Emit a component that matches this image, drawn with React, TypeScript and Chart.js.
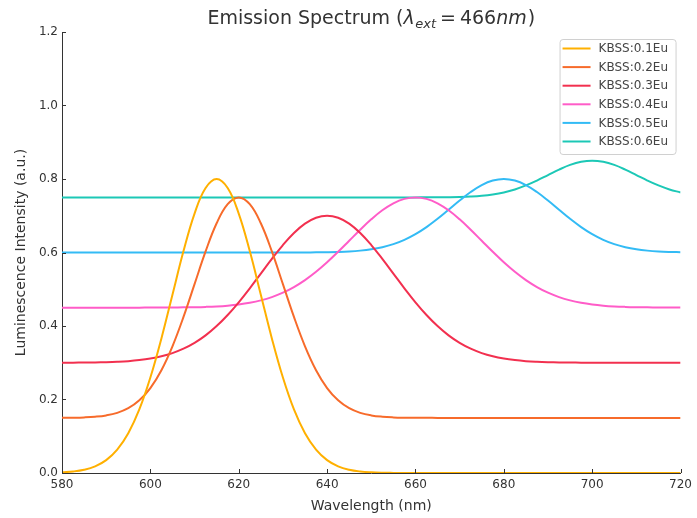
import React, { useEffect, useRef } from "react";
import { Chart, registerables } from "chart.js";

Chart.register(...registerables);

// Wavelength samples (nm), every 2.5 nm
const wavelengths = [
  580, 582.5, 585, 587.5, 590, 592.5, 595, 597.5, 600, 602.5, 605, 607.5, 610,
  612.5, 615, 617.5, 620, 622.5, 625, 627.5, 630, 632.5, 635, 637.5, 640, 642.5,
  645, 647.5, 650, 652.5, 655, 657.5, 660, 662.5, 665, 667.5, 670, 672.5, 675,
  677.5, 680, 682.5, 685, 687.5, 690, 692.5, 695, 697.5, 700, 702.5, 705, 707.5,
  710, 712.5, 715, 717.5, 720,
];

// Intensities (a.u.)
const kbss01 = [
  0.0018, 0.0041, 0.0089, 0.0182, 0.0351, 0.0637, 0.1083, 0.173, 0.2598,
  0.3662, 0.4852, 0.6038, 0.706, 0.7754, 0.8, 0.7754, 0.706, 0.6038, 0.4852,
  0.3662, 0.2598, 0.173, 0.1083, 0.0637, 0.0351, 0.0182, 0.0089, 0.0041,
  0.0018, 0.0007, 0.0003, 0.0001,
  0, 0, 0, 0, 0, 0, 0, 0, 0, 0, 0, 0, 0, 0, 0, 0, 0, 0, 0, 0, 0, 0, 0, 0, 0,
];
const kbss02 = [
  0.1502, 0.1505, 0.1513, 0.1531, 0.1567, 0.1637, 0.1763, 0.1978, 0.2312,
  0.2798, 0.3448, 0.4247, 0.5139, 0.6029, 0.6795, 0.7315, 0.75, 0.7315,
  0.6795, 0.6029, 0.5139, 0.4247, 0.3448, 0.2798, 0.2312, 0.1978, 0.1763,
  0.1637, 0.1567, 0.1531, 0.1513, 0.1505, 0.1502, 0.1501,
  0.15, 0.15, 0.15, 0.15, 0.15, 0.15, 0.15, 0.15, 0.15, 0.15, 0.15, 0.15, 0.15,
  0.15, 0.15, 0.15, 0.15, 0.15, 0.15, 0.15, 0.15, 0.15, 0.15,
];
const kbss03 = [
  0.3001, 0.3003, 0.3005, 0.3009, 0.3016, 0.3027, 0.3044, 0.3072, 0.3114,
  0.3176, 0.3263, 0.3382, 0.3541, 0.3745, 0.3998, 0.4299, 0.4644, 0.5025,
  0.5426, 0.5826, 0.6203, 0.653, 0.6784, 0.6945, 0.7, 0.6945, 0.6784, 0.653,
  0.6203, 0.5826, 0.5426, 0.5025, 0.4644, 0.4299, 0.3998, 0.3745, 0.3541,
  0.3382, 0.3263, 0.3176, 0.3114, 0.3072, 0.3044, 0.3027, 0.3016, 0.3009,
  0.3005, 0.3003, 0.3001, 0.3001,
  0.3, 0.3, 0.3, 0.3, 0.3, 0.3, 0.3,
];
const kbss04 = [
  0.45, 0.45, 0.45, 0.45, 0.45, 0.45, 0.45, 0.45,
  0.4501, 0.4502, 0.4504, 0.4507, 0.4512, 0.452, 0.4533, 0.4554, 0.4586,
  0.4632, 0.4697, 0.4787, 0.4906, 0.5059, 0.5248, 0.5474, 0.5733, 0.6019,
  0.632, 0.662, 0.6902, 0.7148, 0.7338, 0.7459, 0.75, 0.7459, 0.7338, 0.7148,
  0.6902, 0.662, 0.632, 0.6019, 0.5733, 0.5474, 0.5248, 0.5059, 0.4906,
  0.4787, 0.4697, 0.4632, 0.4586, 0.4554, 0.4533, 0.452, 0.4512, 0.4507,
  0.4504, 0.4502, 0.4501,
];
const kbss05 = [
  0.6, 0.6, 0.6, 0.6, 0.6, 0.6, 0.6, 0.6, 0.6, 0.6, 0.6, 0.6, 0.6, 0.6, 0.6,
  0.6, 0.6, 0.6, 0.6, 0.6, 0.6,
  0.6001, 0.6002, 0.6004, 0.6008, 0.6015, 0.6028, 0.6051, 0.6088, 0.6145,
  0.6228, 0.6345, 0.6499, 0.6691, 0.6916, 0.7163, 0.7413, 0.7645, 0.7834,
  0.7957, 0.8, 0.7957, 0.7834, 0.7645, 0.7413, 0.7163, 0.6916, 0.6691, 0.6499,
  0.6345, 0.6228, 0.6145, 0.6088, 0.6051, 0.6028, 0.6015, 0.6008,
];
const kbss06 = [
  0.75, 0.75, 0.75, 0.75, 0.75, 0.75, 0.75, 0.75, 0.75, 0.75, 0.75, 0.75, 0.75,
  0.75, 0.75, 0.75, 0.75, 0.75, 0.75, 0.75, 0.75, 0.75, 0.75, 0.75, 0.75, 0.75,
  0.75, 0.75, 0.75, 0.75, 0.75, 0.75, 0.75,
  0.7501, 0.7502, 0.7505, 0.7511, 0.7523, 0.7544, 0.758, 0.7635, 0.7716,
  0.7825, 0.7958, 0.8107, 0.8255, 0.8383, 0.8469, 0.85, 0.8469, 0.8383, 0.8255,
  0.8107, 0.7958, 0.7825, 0.7716, 0.7635,
];

const seriesLabels = [
  "KBSS:0.1Eu",
  "KBSS:0.2Eu",
  "KBSS:0.3Eu",
  "KBSS:0.4Eu",
  "KBSS:0.5Eu",
  "KBSS:0.6Eu",
];
const seriesValues = [kbss01, kbss02, kbss03, kbss04, kbss05, kbss06];
const seriesColors = [
  "#FFB000",
  "#F76B2B",
  "#F2304F",
  "#FF5CC8",
  "#33BBF5",
  "#1CC8B6",
];

const xTicks = [580, 600, 620, 640, 660, 680, 700, 720];
const yTicks = [0, 0.2, 0.4, 0.6, 0.8, 1.0, 1.2];

const FONT = "'DejaVu Sans', sans-serif";
const TEXT = "#333333";

const titlePlugin = {
  id: "mathTitle",
  afterDraw(chart: any) {
    const { ctx, chartArea } = chart;
    const big = 19;
    const small = 13;
    const parts = [
      { t: "Emission Spectrum (", f: `${big}px ${FONT}`, dy: 0, gap: 0 },
      { t: "\u03BB", f: `italic ${big}px ${FONT}`, dy: 0, gap: 0 },
      { t: "ext", f: `italic ${small}px ${FONT}`, dy: 4, gap: 0.5 },
      { t: "=", f: `${big}px ${FONT}`, dy: 0, gap: 4 },
      { t: "466", f: `${big}px ${FONT}`, dy: 0, gap: 4 },
      { t: "nm", f: `italic ${big}px ${FONT}`, dy: 0, gap: 0 },
      { t: ")", f: `${big}px ${FONT}`, dy: 0, gap: 1 },
    ];
    ctx.save();
    ctx.fillStyle = TEXT;
    ctx.textBaseline = "alphabetic";
    ctx.textAlign = "left";
    let total = 0;
    const widths = parts.map((p) => {
      ctx.font = p.f;
      const w = ctx.measureText(p.t).width;
      total += w + p.gap;
      return w;
    });
    let x = (chartArea.left + chartArea.right) / 2 - total / 2;
    const baseline = 24;
    parts.forEach((p, i) => {
      x += p.gap;
      ctx.font = p.f;
      ctx.fillText(p.t, x, baseline + p.dy);
      x += widths[i];
    });
    ctx.restore();
  },
};

const tickPlugin = {
  id: "inTicks",
  afterDatasetsDraw(chart: any) {
    const { ctx, chartArea, scales } = chart;
    ctx.save();
    ctx.strokeStyle = "#333333";
    ctx.lineWidth = 1;
    ctx.beginPath();
    xTicks.forEach((v) => {
      const px = Math.round(scales.x.getPixelForValue(v)) + 0.5;
      ctx.moveTo(px, chartArea.bottom);
      ctx.lineTo(px, chartArea.bottom - 4);
    });
    yTicks.forEach((v) => {
      const py = Math.round(scales.y.getPixelForValue(v)) + 0.5;
      ctx.moveTo(chartArea.left, py);
      ctx.lineTo(chartArea.left + 4, py);
    });
    ctx.stroke();
    ctx.restore();
  },
};

const legendPlugin = {
  id: "boxLegend",
  afterDraw(chart: any) {
    const { ctx, chartArea } = chart;
    const datasets = chart.data.datasets;
    const w = 116;
    const rowH = 18.6;
    const h = 9 + rowH * (datasets.length - 1) + 13;
    const right = chartArea.right - 5;
    const left = right - w;
    const top = chartArea.top + 7;
    ctx.save();
    ctx.fillStyle = "rgba(255,255,255,0.85)";
    ctx.strokeStyle = "#d0d0d0";
    ctx.lineWidth = 1;
    ctx.beginPath();
    (ctx as any).roundRect(left + 0.5, top + 0.5, w, h, 3);
    ctx.fill();
    ctx.stroke();
    ctx.font = `12px ${FONT}`;
    ctx.textBaseline = "middle";
    ctx.textAlign = "left";
    datasets.forEach((ds: any, i: number) => {
      const y = top + 9.5 + i * rowH;
      ctx.strokeStyle = ds.borderColor;
      ctx.lineWidth = 2;
      ctx.beginPath();
      ctx.moveTo(left + 3, y);
      ctx.lineTo(left + 31, y);
      ctx.stroke();
      ctx.fillStyle = "#444444";
      ctx.fillText(ds.label, left + 39, y + 0.5);
    });
    ctx.restore();
  },
};

export default function App() {
  const canvasRef = useRef<HTMLCanvasElement | null>(null);

  useEffect(() => {
    if (!canvasRef.current) return;
    const datasets = seriesLabels.map((label, i) => ({
      label,
      data: wavelengths.map((x, j) => ({ x, y: seriesValues[i][j] })),
      borderColor: seriesColors[i],
      backgroundColor: seriesColors[i],
      borderWidth: 2,
      pointRadius: 0,
      fill: false,
      tension: 0.4,
    }));

    const chart = new Chart(canvasRef.current, {
      type: "line",
      data: { datasets },
      plugins: [tickPlugin, legendPlugin, titlePlugin],
      options: {
        animation: false,
        responsive: false,
        maintainAspectRatio: false,
        layout: { padding: { top: 32, right: 15, left: 0, bottom: 0 } },
        plugins: {
          legend: { display: false },
          title: { display: false },
          tooltip: { enabled: false },
        },
        scales: {
          x: {
            type: "linear",
            min: 580,
            max: 720,
            afterFit: (s: any) => {
              s.height = 45;
            },
            afterBuildTicks: (s: any) => {
              s.ticks = xTicks.map((v) => ({ value: v }));
            },
            ticks: {
              color: TEXT,
              font: { family: FONT, size: 12 },
              padding: 5,
              maxRotation: 0,
              callback: (v: any) => String(v),
            },
            grid: { drawOnChartArea: false, drawTicks: false },
            border: { display: true, color: "#333333", width: 1 },
            title: {
              display: true,
              text: "Wavelength (nm)",
              color: TEXT,
              font: { family: FONT, size: 14 },
              padding: { top: 0, bottom: 3 },
            },
          },
          y: {
            type: "linear",
            min: 0,
            max: 1.2,
            afterFit: (s: any) => {
              s.width = 62;
            },
            afterBuildTicks: (s: any) => {
              s.ticks = yTicks.map((v) => ({ value: v }));
            },
            ticks: {
              color: TEXT,
              font: { family: FONT, size: 12 },
              padding: 4,
              callback: (v: any) => Number(v).toFixed(1),
            },
            grid: { drawOnChartArea: false, drawTicks: false },
            border: { display: true, color: "#333333", width: 1 },
            title: {
              display: true,
              text: "Luminescence Intensity (a.u.)",
              color: TEXT,
              font: { family: FONT, size: 14 },
              padding: { top: 12.5, bottom: 0 },
            },
          },
        },
      },
    });
    return () => chart.destroy();
  }, []);

  return (
    <div
      style={{
        position: "fixed",
        left: 0,
        top: 0,
        width: 697,
        height: 518,
        background: "#ffffff",
      }}
    >
      <canvas ref={canvasRef} width={697} height={518} />
    </div>
  );
}
